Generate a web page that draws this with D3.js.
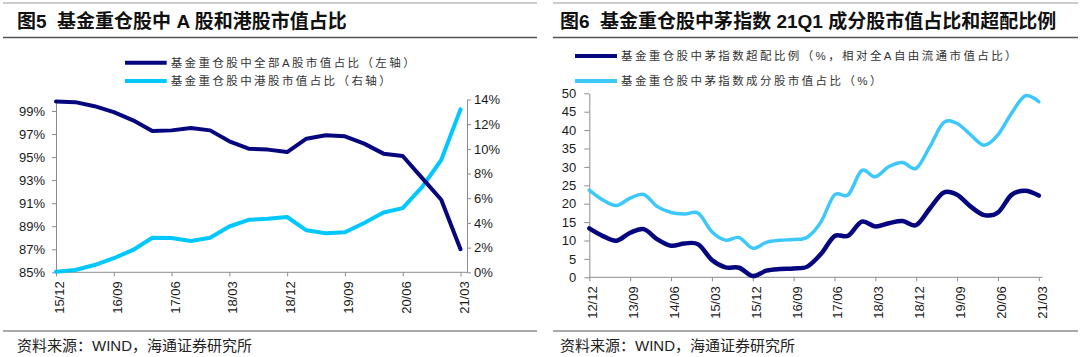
<!DOCTYPE html>
<html>
<head>
<meta charset="utf-8">
<script src="https://cdn.jsdelivr.net/npm/d3@7"></script>
<style>
  html, body { margin: 0; padding: 0; background: #fff; }
  svg { display: block; }
  .pre { white-space: pre; }
</style>
</head>
<body>
<script>
// ---------------- DATA ----------------
const leftQuarters = ["15/12","16/03","16/06","16/09","16/12","17/03","17/06","17/09","17/12","18/03","18/06","18/09","18/12","19/03","19/06","19/09","19/12","20/03","20/06","20/09","20/12","21/03"];
const aShareAll = [99.83, 99.77, 99.42, 98.9, 98.19, 97.26, 97.32, 97.52, 97.32, 96.37, 95.73, 95.65, 95.44, 96.6, 96.89, 96.8, 96.17, 95.3, 95.1, 93.2, 91.3, 87.0];
const hkShare = [0.05, 0.19, 0.59, 1.14, 1.81, 2.8, 2.78, 2.54, 2.8, 3.71, 4.25, 4.33, 4.48, 3.4, 3.17, 3.25, 4.0, 4.85, 5.2, 6.9, 9.1, 13.2];
const leftTicksA = ["85%","87%","89%","91%","93%","95%","97%","99%"];
const leftTicksHK = ["0%","2%","4%","6%","8%","10%","12%","14%"];

const rightQuarters = ["12/12","13/03","13/06","13/09","13/12","14/03","14/06","14/09","14/12","15/03","15/06","15/09","15/12","16/03","16/06","16/09","16/12","17/03","17/06","17/09","17/12","18/03","18/06","18/09","18/12","19/03","19/06","19/09","19/12","20/03","20/06","20/09","20/12","21/03"];
const maoOverweight = [13.3, 11.2, 9.95, 12.1, 13.1, 10.3, 8.6, 9.2, 8.95, 4.7, 2.7, 2.6, 0.35, 1.8, 2.25, 2.4, 2.9, 6.3, 11.2, 11.3, 15.1, 13.8, 14.7, 15.3, 14.2, 18.7, 23.0, 22.4, 19.2, 16.9, 17.6, 22.4, 23.5, 22.2];
const maoShare = [23.7, 21.0, 19.5, 21.5, 22.5, 19.2, 17.6, 17.2, 17.4, 12.4, 10.1, 10.8, 7.9, 9.5, 10.05, 10.3, 10.9, 15.0, 22.4, 22.4, 29.0, 27.3, 30.1, 31.2, 29.6, 35.5, 42.0, 41.8, 38.7, 35.9, 38.7, 44.6, 49.3, 47.7];
const rightTicks = [0,5,10,15,20,25,30,35,40,45,50];

const leftTitle = "图5  基金重仓股中 A 股和港股市值占比";
const rightTitle = "图6  基金重仓股中茅指数 21Q1 成分股市值占比和超配比例";
const leftLegend = ["基金重仓股中全部A股市值占比（左轴）", "基金重仓股中港股市值占比（右轴）"];
const rightLegend = ["基金重仓股中茅指数超配比例（%，相对全A自由流通市值占比）", "基金重仓股中茅指数成分股市值占比（%）"];
const sourceText = "资料来源：WIND，海通证券研究所";

// ---------------- STYLE ----------------
const NAVY = "#06067e";
const CYAN_L = "#00c8ff";
const CYAN_R = "#3cc8fa";
const AXIS = "#8c8c8c";
const NUMFONT = "'Liberation Sans', Arial, 'Noto Sans CJK SC', sans-serif";
const CJKFONT = "'Liberation Sans', 'Noto Sans CJK SC', sans-serif";

const svg = d3.select("body").append("svg").attr("width", 1080).attr("height", 357);
svg.append("rect").attr("width", 1080).attr("height", 357).attr("fill", "#fff");

// frame lines
function frame(x0, x1, tx, title) {
  svg.append("line").attr("x1", x0).attr("x2", x1).attr("y1", 3).attr("y2", 3).attr("stroke", "#9a9a9a").attr("stroke-width", 1);
  svg.append("line").attr("x1", x0).attr("x2", x1).attr("y1", 37.5).attr("y2", 37.5).attr("stroke", "#555").attr("stroke-width", 1.5);
  svg.append("line").attr("x1", x0).attr("x2", x1).attr("y1", 331).attr("y2", 331).attr("stroke", "#555").attr("stroke-width", 1);
  svg.append("text").attr("class", "pre").attr("x", tx).attr("y", 27.5).text(title)
    .attr("font-family", CJKFONT).attr("font-size", 19).attr("font-weight", "bold").attr("fill", "#111");
  svg.append("text").attr("x", tx).attr("y", 351).text(sourceText)
    .attr("font-family", CJKFONT).attr("font-size", 15).attr("fill", "#222");
}
frame(3, 537, 17, leftTitle);
frame(553, 1078, 560, rightTitle);

function legend(x0, x1, items) {
  items.forEach(it => {
    svg.append("line").attr("x1", x0).attr("x2", x1).attr("y1", it.y).attr("y2", it.y)
      .attr("stroke", it.color).attr("stroke-width", 4);
    svg.append("text").attr("x", x1 + 4).attr("y", it.y + 4.3).text(it.label)
      .attr("font-family", CJKFONT).attr("font-size", 11.5).attr("letter-spacing", "2.4px").attr("fill", "#333");
  });
}
legend(125, 166.7, [{y: 62.7, color: NAVY, label: leftLegend[0]}, {y: 81, color: CYAN_L, label: leftLegend[1]}]);
legend(575, 617, [{y: 56, color: NAVY, label: rightLegend[0]}, {y: 81, color: CYAN_R, label: rightLegend[1]}]);

function styleAxis(g) {
  g.selectAll(".domain").attr("stroke", AXIS).attr("stroke-width", 1);
  g.selectAll(".tick line").attr("stroke", AXIS).attr("stroke-width", 1);
  g.selectAll("text").attr("font-family", NUMFONT).attr("font-size", 13).attr("fill", "#1a1a1a");
}
function rotateLabels(g) {
  g.selectAll(".tick text")
    .attr("text-anchor", "end")
    .attr("dy", null)
    .attr("dominant-baseline", "central")
    .attr("transform", "translate(3,0) rotate(-90)")
    .attr("x", -9).attr("y", 0);
}

// ---------------- LEFT CHART ----------------
{
  const x = d3.scaleLinear().domain([0, leftQuarters.length - 1]).range([56, 460.5]);
  const yA = d3.scaleLinear().domain([85, 100]).range([272.3, 99.5]);
  const yH = d3.scaleLinear().domain([0, 14]).range([272.3, 99.5]);

  const gl = svg.append("g").attr("transform", "translate(56,0)")
    .call(d3.axisLeft(yA).tickValues(d3.range(85, 100, 2)).tickFormat((d, i) => leftTicksA[i]).tickSize(4).tickSizeOuter(0).tickPadding(7));
  styleAxis(gl);
  const gr = svg.append("g").attr("transform", "translate(467,0)")
    .call(d3.axisRight(yH).tickValues(d3.range(0, 15, 2)).tickFormat((d, i) => leftTicksHK[i]).tickSize(4).tickSizeOuter(0).tickPadding(3));
  styleAxis(gr);
  const gb = svg.append("g").attr("transform", "translate(0,272.3)")
    .call(d3.axisBottom(x).tickValues(d3.range(0, leftQuarters.length, 3)).tickFormat(i => leftQuarters[i]).tickSize(4).tickSizeOuter(0));
  gb.select(".domain").remove();
  gb.append("line").attr("x1", 56).attr("x2", 467).attr("stroke", AXIS);
  styleAxis(gb);
  rotateLabels(gb);

  const lineA = d3.line().x((d, i) => x(i)).y(d => yA(d));
  const lineH = d3.line().x((d, i) => x(i)).y(d => yH(d));
  svg.append("path").datum(hkShare).attr("d", lineH).attr("fill", "none")
    .attr("stroke", CYAN_L).attr("stroke-width", 4).attr("stroke-linejoin", "round").attr("stroke-linecap", "round");
  svg.append("path").datum(aShareAll).attr("d", lineA).attr("fill", "none")
    .attr("stroke", NAVY).attr("stroke-width", 4).attr("stroke-linejoin", "round").attr("stroke-linecap", "round");
}

// ---------------- RIGHT CHART ----------------
{
  const x = d3.scaleLinear().domain([0, rightQuarters.length - 1]).range([589.3, 1038.8]);
  const y = d3.scaleLinear().domain([0, 50]).range([277.3, 93.3]);

  const gl = svg.append("g").attr("transform", "translate(589.3,0)")
    .call(d3.axisLeft(y).tickValues(rightTicks).tickSize(5).tickSizeOuter(0).tickPadding(8));
  styleAxis(gl);
  const gb = svg.append("g").attr("transform", "translate(0,277.3)")
    .call(d3.axisBottom(x).tickValues(d3.range(0, rightQuarters.length, 3)).tickFormat(i => rightQuarters[i]).tickSize(4).tickSizeOuter(0));
  gb.select(".domain").remove();
  gb.append("line").attr("x1", 589.3).attr("x2", 1042.5).attr("stroke", AXIS);
  styleAxis(gb);
  rotateLabels(gb);

  const line = d3.line().x((d, i) => x(i)).y(d => y(d)).curve(d3.curveCatmullRom.alpha(0));
  svg.append("path").datum(maoShare).attr("d", line).attr("fill", "none")
    .attr("stroke", CYAN_R).attr("stroke-width", 3.5).attr("stroke-linecap", "round");
  svg.append("path").datum(maoOverweight).attr("d", line).attr("fill", "none")
    .attr("stroke", NAVY).attr("stroke-width", 4.5).attr("stroke-linecap", "round");
}
</script>
</body>
</html>
